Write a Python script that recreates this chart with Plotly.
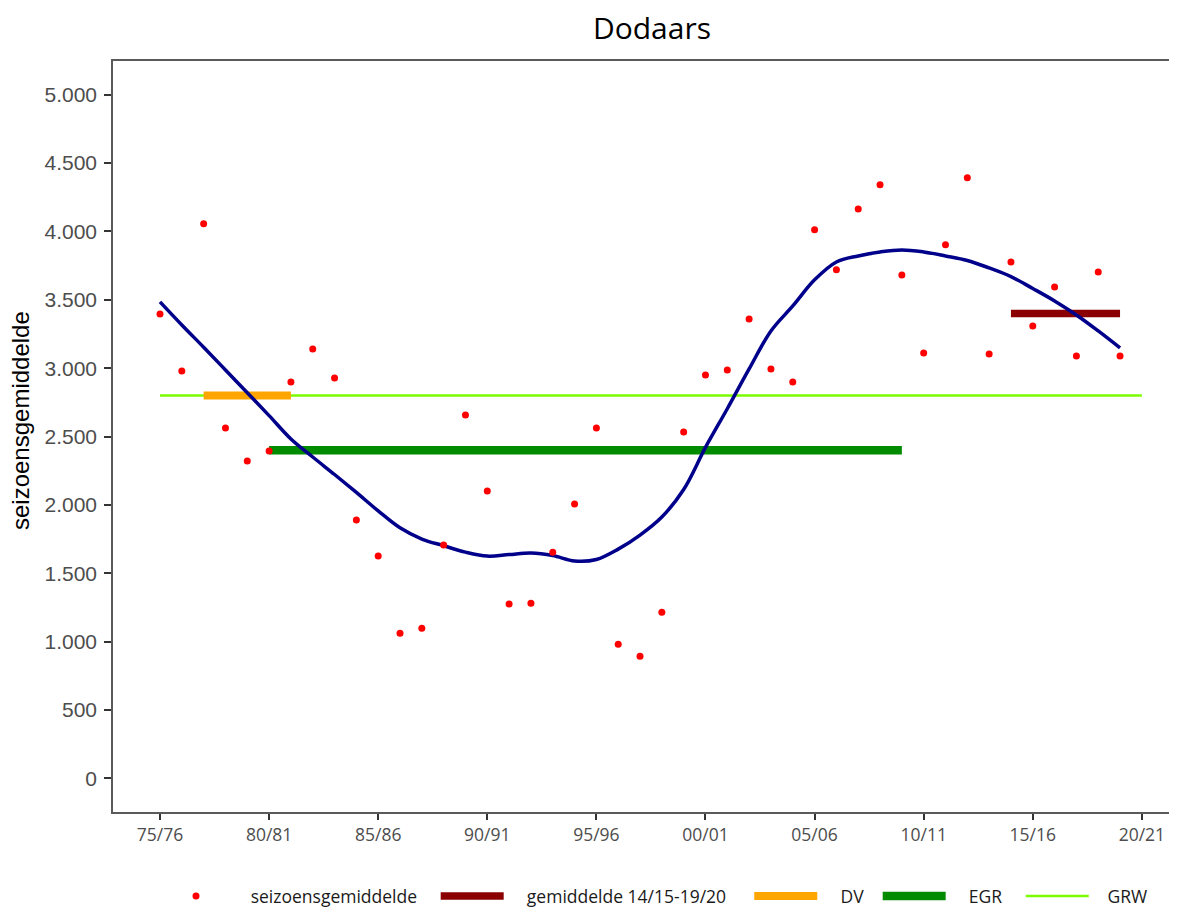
import plotly.graph_objects as go

# ---- data ----
seasons = ["75/76","76/77","77/78","78/79","79/80","80/81","81/82","82/83","83/84","84/85",
           "85/86","86/87","87/88","88/89","89/90","90/91","91/92","92/93","93/94","94/95",
           "95/96","96/97","97/98","98/99","99/00","00/01","01/02","02/03","03/04","04/05",
           "05/06","06/07","07/08","08/09","09/10","10/11","11/12","12/13","13/14","14/15",
           "15/16","16/17","17/18","18/19","19/20"]
all_seasons = seasons + ["20/21"]

season_avg = [3397, 2979, 4056, 2562, 2321, 2394, 2899, 3141, 2928, 1889,
              1625, 1061, 1098, 1706, 2657, 2101, 1274, 1281, 1654, 2006,
              2562, 981, 893, 1215, 2533, 2950, 2987, 3360, 2994, 2899,
              4012, 3719, 4165, 4341, 3682, 3111, 3902, 4392, 3104, 3777,
              3309, 3594, 3089, 3704, 3089]

smooth = [3485, 3316, 3153, 2987, 2820, 2653, 2482, 2350, 2222, 2091,
          1956, 1832, 1750, 1701, 1654, 1625, 1636, 1647, 1629, 1589,
          1600, 1676, 1779, 1911, 2112, 2420, 2703, 2994, 3272, 3455,
          3646, 3777, 3821, 3850, 3865, 3850, 3821, 3788, 3733, 3670,
          3583, 3492, 3389, 3272, 3148]

gem_seasons = ["14/15", "19/20"]; gem_value = 3400
dv_seasons = ["77/78", "81/82"];   dv_value = 2800
egr_seasons = ["80/81", "09/10"];  egr_value = 2400
grw_seasons = ["75/76", "20/21"];  grw_value = 2800

x_ticks = ["75/76","80/81","85/86","90/91","95/96","00/01","05/06","10/11","15/16","20/21"]
y_ticks = [0, 500, 1000, 1500, 2000, 2500, 3000, 3500, 4000, 4500, 5000]
y_ticktext = ["0","500","1.000","1.500","2.000","2.500","3.000","3.500","4.000","4.500","5.000"]
y_title = "seizoensgemiddelde"

SP = "\u00a0"
def lbl(text, lead, trail):
    return SP * lead + text + SP * trail

txt_font = "Open Sans, DejaVu Sans"

fig = go.Figure()

fig.add_trace(go.Scatter(x=grw_seasons, y=[grw_value]*2, mode="lines", name=lbl("GRW", 3, 0),
                         line=dict(color="#7CFC00", width=2.5), legendrank=5))
fig.add_trace(go.Scatter(x=egr_seasons, y=[egr_value]*2, mode="lines", name=lbl("EGR", 4, 3),
                         line=dict(color="#008B00", width=8.5), legendrank=4))
fig.add_trace(go.Scatter(x=dv_seasons, y=[dv_value]*2, mode="lines", name=lbl("DV", 4, 2),
                         line=dict(color="#FFA500", width=8), legendrank=3))
fig.add_trace(go.Scatter(x=gem_seasons, y=[gem_value]*2, mode="lines",
                         name=lbl("gemiddelde 14/15-19/20", 4, 4),
                         line=dict(color="#8B0000", width=7.5), legendrank=2))
fig.add_trace(go.Scatter(x=seasons, y=smooth, mode="lines", showlegend=False,
                         line=dict(color="#00008B", width=3.5, shape="spline")))
fig.add_trace(go.Scatter(x=seasons, y=season_avg, mode="markers", name=lbl("seizoensgemiddelde", 4, 3),
                         marker=dict(color="#FF0000", size=7), legendrank=1))

W, H = 1169, 900
fig.update_layout(
    width=W, height=H,
    margin=dict(l=105, r=0, t=53, b=96, autoexpand=False),
    plot_bgcolor="white", paper_bgcolor="white",
    title=dict(text="Dodaars", x=644/W, xanchor="center", xref="container",
               y=1-20/H, yanchor="middle", yref="container",
               font=dict(family=txt_font, size=30, color="black")),
    showlegend=True,
    legend=dict(orientation="h", x=(159.5-113)/1064, xanchor="left",
                y=-(888-804)/751, yanchor="middle",
                font=dict(family=txt_font, size=17.5, color="#1a1a1a"),
                itemwidth=63, bgcolor="rgba(0,0,0,0)"),
    annotations=[dict(text=y_title, textangle=-90, showarrow=False,
                      xref="paper", yref="paper",
                      x=(12-105)/1064, y=(804-413)/751,
                      xanchor="center", yanchor="middle",
                      font=dict(family="Liberation Sans, Arial", size=24, color="black"))],
)

fig.update_xaxes(
    type="category", categoryorder="array", categoryarray=all_seasons,
    range=[-2.154, 46.61],
    tickmode="array", tickvals=x_ticks, ticktext=x_ticks,
    showgrid=False, zeroline=False,
    showline=True, linecolor="#5a5a5a", linewidth=1.5, mirror=True,
    ticks="outside", ticklen=6, tickwidth=2, tickcolor="#333333",
    tickfont=dict(family=txt_font, size=17.5, color="#4d4d4d"),
)
fig.update_yaxes(
    range=[-247, 5247],
    tickmode="array", tickvals=y_ticks, ticktext=y_ticktext,
    showgrid=False, zeroline=False,
    showline=True, linecolor="#5a5a5a", linewidth=1.5,
    ticks="outside", ticklen=7, tickwidth=2, tickcolor="#333333",
    tickfont=dict(family="Liberation Sans, Arial", size=21, color="#4d4d4d"),
    ticklabelstandoff=3,
)

fig.write_html("out.html")
